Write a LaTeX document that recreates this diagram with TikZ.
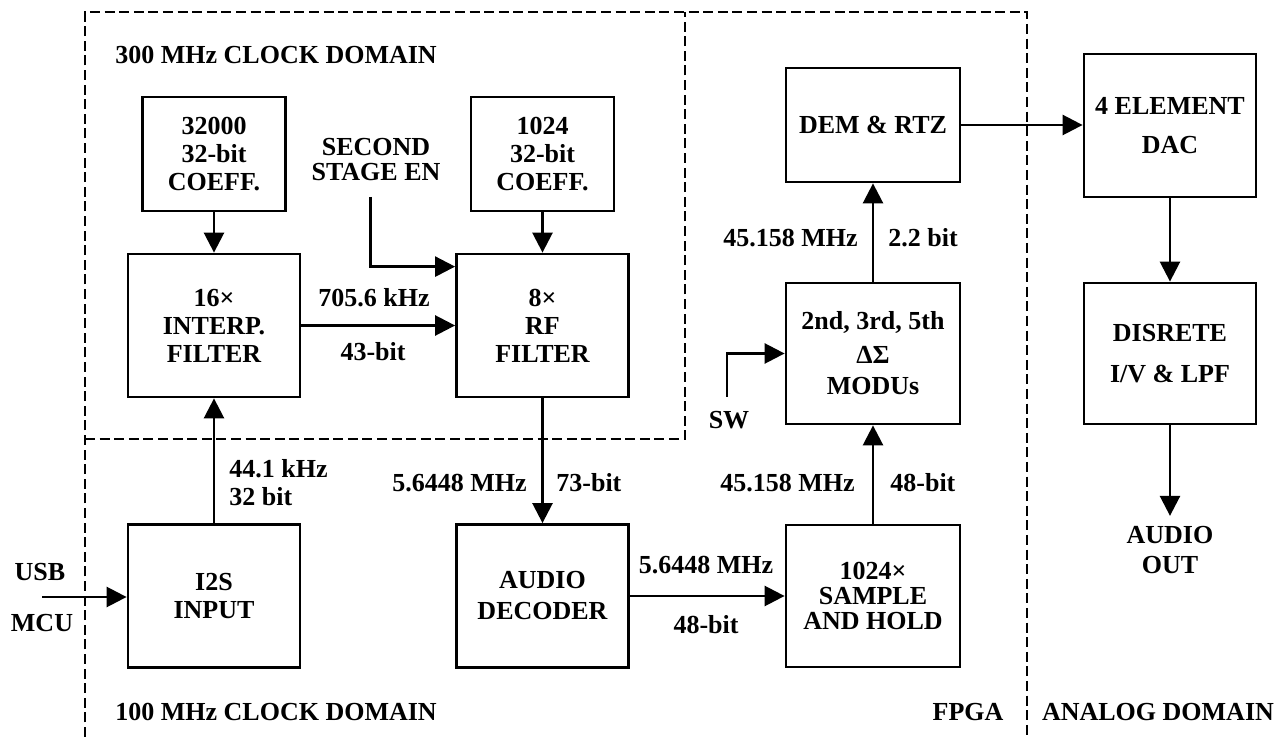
\documentclass[tikz,border=0pt]{standalone}
\usepackage{fontspec}
\setmainfont{Liberation Serif}
\usepackage{tikz}
\usetikzlibrary{arrows.meta,positioning}

\begin{document}
\begin{tikzpicture}[x=0.5pt,y=-0.5pt,
          font=\fontsize{13}{14}\selectfont\bfseries,
          blk/.style={draw,line width=1.4pt,align=center,inner sep=0pt},
          coef/.style={blk,minimum width=71.5pt,minimum height=57pt},
          flt/.style={blk,minimum width=86pt,minimum height=71.5pt},
          lbl/.style={align=center,inner sep=0pt},
          sig/.style={-{Triangle[length=10pt,width=10pt]},line width=1.3pt},
          clkdom/.style={line width=1.4pt,dash pattern=on 5pt off 2.3pt}]
        \useasboundingbox (0,0) rectangle (1287,737);
        \draw[clkdom] (85,737) -- (85,12) -- (1027,12) -- (1027,737);
        \draw[clkdom] (85,439) -- (685,439) -- (685,12);

        \node[coef] (coA) at (214,154) {32000\\32-bit\\COEFF.};
        \node[coef] (coB) at (542.5,154) {1024\\32-bit\\COEFF.};
        \node[flt] (interp) at (214,325.5) {16×\\INTERP.\\FILTER};
        \node[flt] (rf) at (542.5,325.5) {8×\\RF\\FILTER};
        \node[flt] (i2s) at (214,596) {I2S\\INPUT};
        \node[flt] (dec) at (542.5,596) {AUDIO\\[1.5pt]DECODER};
        \node[blk,minimum width=87pt,minimum height=71pt] (sh) at (873,596)
          {1024×\\[-1.5pt]SAMPLE\\[-1.5pt]AND HOLD};
        \node[blk,minimum width=87pt,minimum height=70.5pt] (mod) at (873,353.5)
          {2nd, 3rd, 5th\\[3pt]ΔΣ\\[1.5pt]MODUs};
        \node[blk,minimum width=87pt,minimum height=57pt] (dem) at (873,125) {DEM \& RTZ};
        \node[blk,minimum width=86pt,minimum height=71.5pt] (dac) at (1170,125.5)
          {4 ELEMENT\\[5.5pt]DAC};
        \node[blk,minimum width=86pt,minimum height=70.5pt] (lpf) at (1170,353.5)
          {DISRETE\\[6.5pt]I/V \& LPF};

        \node[lbl,anchor=west] (tl300) at (115,55) {300 MHz CLOCK DOMAIN};
        \node[lbl,anchor=west] (tl100) at (115,712) {100 MHz CLOCK DOMAIN};
        \node[lbl] (tfpga) at (968,712) {FPGA};
        \node[lbl] (tana) at (1158,712) {ANALOG DOMAIN};
        \node[lbl] (usb) at (40,572) {USB};
        \node[lbl] (mcu) at (42,623) {MCU};
        \node[lbl] (sse) at (376,159.5) {SECOND\\[-1.5pt]STAGE EN};
        \node[lbl] (sw) at (729,420) {SW};
        \node[lbl,inner sep=5pt] (out) at (1170,550) {AUDIO\\[1pt]OUT};

        \node[lbl] (f1) at (374,298) {705.6 kHz};
        \node[lbl] (b1) at (373,352) {43-bit};
        \node[lbl,anchor=west,align=left] (r2) at (229,483) {44.1 kHz\\32 bit};
        \node[lbl,anchor=east] (f3) at (527,483) {5.6448 MHz};
        \node[lbl,anchor=west] (b3) at (556,483) {73-bit};
        \node[lbl] (f4) at (706,565) {5.6448 MHz};
        \node[lbl] (b4) at (706,625) {48-bit};
        \node[lbl,anchor=east] (f5) at (855,483) {45.158 MHz};
        \node[lbl,anchor=west] (b5) at (890,483) {48-bit};
        \node[lbl,anchor=east] (f6) at (858,238) {45.158 MHz};
        \node[lbl,anchor=west] (b6) at (888,238) {2.2 bit};

        \coordinate (usbin) at (42,597);
        \coordinate (ssein) at (370.5,197);
        \coordinate (swin) at (727,397);

        \draw[sig] (coA) -- (interp);
        \draw[sig] (coB) -- (rf);
        \draw[sig] (ssein) |- ([yshift=-7pt]rf.north west);
        \draw[sig] (interp) -- (rf);
        \draw[sig] (i2s) -- (interp);
        \draw[sig] (rf) -- (dec);
        \draw[sig] (usbin) -- (usbin -| i2s.west);
        \draw[sig] (dec) -- (sh);
        \draw[sig] (sh) -- (mod);
        \draw[sig] (swin) |- (mod.west);
        \draw[sig] (mod) -- (dem);
        \draw[sig] (dem.east) -- (dem.east -| dac.west);
        \draw[sig] (dac) -- (lpf);
        \draw[sig] (lpf) -- (out);
      \end{tikzpicture}
\end{document}
